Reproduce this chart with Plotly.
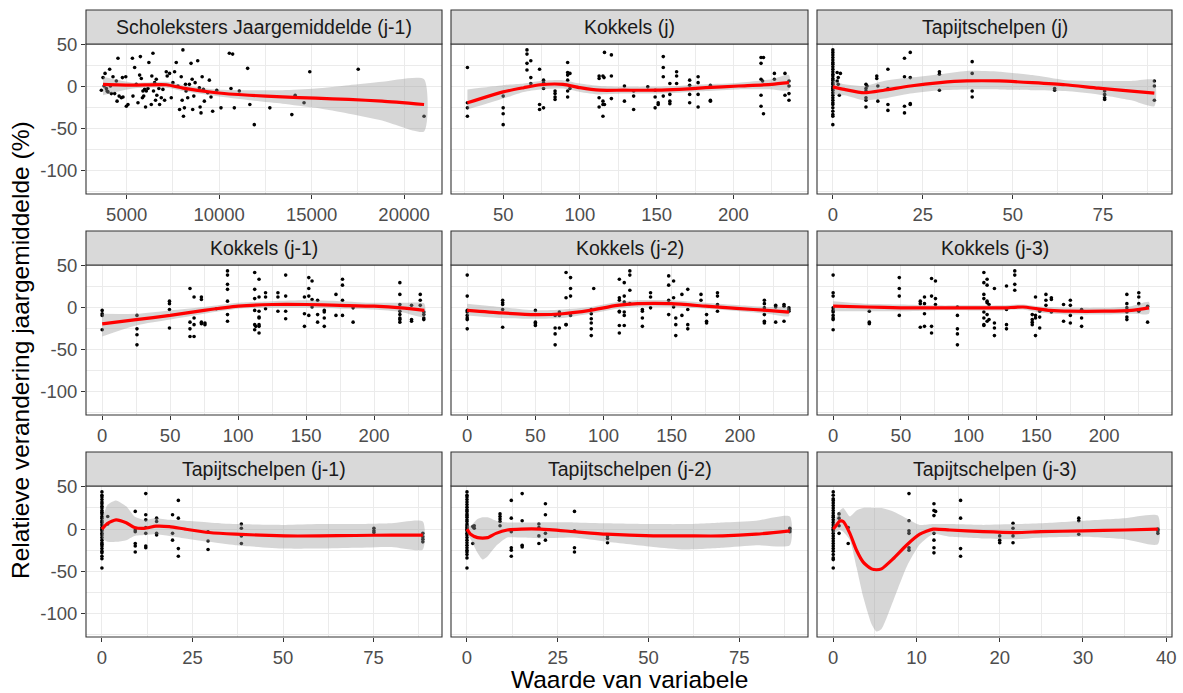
import plotly.graph_objects as go

W, H = 1183, 693
FONT = "Liberation Sans, Arial, sans-serif"

titles = ["Scholeksters Jaargemiddelde (j-1)", "Kokkels (j)", "Tapijtschelpen (j)",
          "Kokkels (j-1)", "Kokkels (j-2)", "Kokkels (j-3)",
          "Tapijtschelpen (j-1)", "Tapijtschelpen (j-2)", "Tapijtschelpen (j-3)"]
x_title = "Waarde van variabele"
y_title = "Relatieve verandering jaargemiddelde (%)"

# ---------------- Panel 1: Scholeksters Jaargemiddelde (j-1)
sch_x = [3630,3720,3780,3830,3900,3940,3990,4080,4120,4170,4260,4350,4440,4480,4530,4590,4710,4770,4800,4950,
         4980,5070,5310,5340,5430,5520,5610,5700,5740,5790,5850,5880,5920,5970,6020,6060,6150,6200,6330,6360,
         6420,6450,6510,6560,6600,6630,6740,6780,6870,6960,7050,7140,7190,7320,7410,7500,7590,7680,7770,7860,
         7950,8000,8040,8070,8120,8180,8210,8300,8390,8480,8540,8570,8630,8700,8840,8930,8970,9020,9080,9150,
         9200,9380,9470,9560,9650,9870,10100,10550,10640,10730,10820,11090,11540,11660,11900,12740,13930,14110,
         14590,14900,17520,21080]
sch_y = [-4,11,1,16,-2,-5,-6,21,1,-8,12,-8,7,-17,34,-11,-13,11,-12,12,
         -23,-21,34,-11,23,3,-19,14,36,10,-13,-5,-11,-3,-24,-5,-2,29,-21,13,
         40,-5,5,-16,9,-10,-2,-21,-13,-3,-16,18,13,16,-13,5,18,29,1,-27,
         12,-16,44,-35,-25,3,-5,-13,3,28,9,-27,-11,5,31,-1,-24,-31,12,-3,
         -17,-7,8,-12,-29,-4,-25,40,-2,39,-25,-5,22,-21,-45,-25,-33,-10,
         -19,18,21,-35]
sch_sx = [3720,5340,7140,8040,9830,11630,13420,15220,17010,18810,21080]
sch_fit = [3,2,2.5,-1.5,-7,-10,-12,-13.5,-15,-17,-21]
sch_lo = [-10,-2,-1,-5,-11,-16,-20,-25,-32,-40,-53]
sch_hi = [12,5,6,2,-3,-4,-4,-2,2,6,9]

# ---------------- Panel 2: Kokkels (j)
kj_x = [26.7,26.7,26.7,26.7, 50,50,50,50, 65.5,65.5,65.5,65.5, 68,68,68, 73.7,73.7,73.7, 76.3,76.3,76.3,76.3,
        83.8,83.8,83.8,83.8, 92,92,92,92,92,92, 93.5,93.5, 112.5,112.5,112.5,112.5, 115,115,115,115, 115.7,
        116,116, 120.5,120.5,120.5, 129,129, 135,135,135, 144.2, 149,149,149, 151,151, 154.3,154.3,154.3,154.3,
        158.6,158.6,158.6,158.6, 163,163,163, 171.5,171.5,171.5,171.5, 177,177,177,177, 185,185,185,
        218,218,218,218,218, 219, 219.6,219.6, 226.7,226.7, 233.6,233.6, 236.2,236.2,236.2,236.2]
kj_y = [23,-19,-25,-35, -11,-25,-32,-45, 44,39,28,20, 31,11,4, 21,-21,-27, 8,5,-2,-25,
        -5,-8,-12,-15, 29,17,14,8,-5,-12, 16,-2, 13,10,-13,-24, 13,-17,-21,-35, 11,
        41,-21, 38,13,-14, 1,-17, -5,-11,-27, 0, -4,-12,-25, -19,-21, 36,23,12,-11,
        4,-9,-17,-20, 18,13,4, 8,2,-9,-19, 12,5,-9,-24, 2,-16,-17,
        35,28,9,-10,-23, 7, 35,-32, 16,9, 16,-10, 7,1,-8,-16]
kj_sx = [26.7,50,63.4,74,89,100,113,128,150,164.7,182,203.4,225,236.2]
kj_fit = [-19,-6,-1,2.5,3,-1,-4,-4,-4,-3,-1,1,3,5]
kj_lo = [-27,-14,-6,-3,-2,-6,-9,-8,-8,-7,-5,-3,-3,-4]
kj_hi = [-3,2,4,7,8,4,1,0,0,1,3,5,9,14]

# ---------------- Panel 3: Tapijtschelpen (j)
tj_x = [0]*30 + [1.2,1.2,1.5,2.1,1.8,1.5] + [9.2]*6 + [9.5] + [12.2,12.2,12.5,12.5] + [15.3]*4 + [19.9]*4 \
       + [21.5]*4 + [29.6]*3 + [38.7]*4 + [61.6]*2 + [75.5]*4 + [89.3]*3
tj_y = [44,41,38,35,32,29,27,24,21,18,15,13,10,8,5,3,0,-2,-4,-7,-10,-13,-16,-19,-21,-25,-29,-33,-35,-45,
        17,7,3,16,-10,11, 3,-2,-5,-13,-16,-24, 1, 13,10,1,-17, 21,-2,-21,-28, 34,12,-23,-31,
        41,11,-20,-21, 18,15,-4, 30,16,-5,-12, -2,-4, -5,-9,-13,-15, 7,1,-16]
tj_sx = [0,3.2,8.7,14.2,21.5,29.8,37.1,46.2,55.4,64.6,73.7,82.9,89.3]
tj_fit = [0,-3,-7,-4,1,5,7,7,5,2.5,-1.5,-5,-7.5]
tj_lo = [-9,-10,-16,-14,-8,-4,-3,-3,-4,-5,-9,-16,-23]
tj_hi = [8,3,1,7,11,15,19,18,14,8,7,7,8]

# ---------------- Panel 4: Kokkels (j-1)
k1_x = [0]*4 + [25.6]*4 + [49.5]*4 + [64.6]*4 + [67.6]*4 + [73]*4 + [75.6]*2 + [84] + [92.2]*7 + [112.2]*6 \
       + [113] + [115.4]*8 + [120.2]*3 + [129.3]*3 + [135]*4 + [148.8]*3 + [152]*4 + [154.4]*3 + [158.5]*3 \
       + [163.4]*4 + [172]*2 + [176.8]*4 + [184.6]*2 + [219]*8 + [227.6]*3 + [234]*3 + [236.6]*4
k1_y = [-3,-7,-9,-26, -9,-25,-32,-44, 8,5,-2,-24, 23,-17,-25,-34, 13,-12,-20,-34, 13,10,-17,-19, -18,-20, -1,
        44,39,28,22,8,-8,-16, 42,22,11,-3,-20,-26, -22, 34,13,-4,-11,-12,-20,-22,-30, 18,13,-1, 18,13,-4,
        39,14,-4,-13, 13,-7,-22, 36,23,14,-9, 32,10,1, 9,-8,-17, -3,-5,-12,-22, 16,-9, 34,27,9,-9, 0,-17,
        30,16,4,-4,-8,-12,-14,-17, 3,-14,-16, 16,9,3, -5,-8,-12,-14]
k1_sx = [0,25,50,75,100,125,150,175,200,220,237]
k1_fit = [-19,-14,-9,-3,2,4,4,3,2,0,-3]
k1_lo = [-34,-21,-14,-7,-1,0,0,-1,-2,-5,-11]
k1_hi = [-7,-7,-3,1,6,8,9,8,6,6,5]

# ---------------- Panel 5: Kokkels (j-2)
k2_x = [0]*8 + [26]*5 + [50]*4 + [64.5]*4 + [67.6]*3 + [72.5]*4 + [75.8]*4 + [91]*6 + [92.8] + [111.6]*7 \
       + [115.2]*6 + [119.3]*4 + [128.5]*4 + [134.5]*3 + [147.8]*4 + [151.4]*3 + [153]*3 + [157.5]*2 \
       + [161.8]*4 + [171.5]*2 + [175.6]*3 + [183.6]*4 + [218]*6 + [226.3]*3 + [232.4]*3 + [236]*3
k2_y = [39,14,-3,-5,-9,-12,-14,-25, 9,6,4,-2,-23, -3,-17,-19,-21, -9,-24,-31,-44, -5,-9,-24, 42,12,-20,-20,
        36,23,14,-9, -2,-7,-13,-18,-25,-33, 23, 34,12,9,-4,-5,-21,-30, 30,14,7,-5,-9,-21, 44,39,21,5,
        -2,-4,-12,-22, 18,13,0, 38,27,9,-8, 32,12,1, -12,-20,-33, 16,-9, 22,-2,-20,-25, 16,9, -8,-16,-18,
        18,14,4,-4, 9,5,0,-8,-16,-18, 3,1,-17, 4,2,-16, 0,-2,-4]
k2_sx = [0,25,50,70,90,110,125,150,175,200,220,236]
k2_fit = [-3,-6,-8,-7,-3,3,5,5,2,-1,-3,-5]
k2_lo = [-9,-12,-13,-12,-7,-1,1,1,-1,-4,-7,-10]
k2_hi = [5,1,-3,-2,1,7,9,9,6,3,1,0]

# ---------------- Panel 6: Kokkels (j-3)
k3_x = [0]*10 + [26.7]*3 + [48.8]*4 + [64.3]*3 + [67.4]*4 + [72.6]*4 + [75.5]*3 + [91.7]*5 + [111.2]*8 \
       + [113.6]*6 + [115]*2 + [119]*4 + [127.9]*4 + [134]*4 + [146.9]*4 + [149.3]*4 + [152.4]*3 + [157]*3 \
       + [161]*3 + [170]*2 + [175]*4 + [183.3]*3 + [216.7]*6 + [225.5]*4 + [232]*2
k3_y = [39,18,14,0,-3,-5,-9,-12,-14,-26, -4,-17,-19, 36,23,14,-9, 8,5,-23, 13,5,-7,-22, 35,14,-22,-30,
        32,11,4, 1,-9,-25,-31,-44, 42,30,16,11,-5,-12,-20,-21, 34,27,8,6,-8,-16, 4,-14, 23,-18,-24,-33,
        26,-2,-20,-25, 44,39,28,21, -8,-14,-17,-20, 13,-9,-12,-33, -4,-11,-24, 16,9,3, 12,10,-5, 4,-16,
        9,3,-9,-18, -2,-12,-22, 16,5,0,-5,-11,-14, 18,13,5,-4, 2,-17]
k3_sx = [0,25,50,75,100,125,140,150,160,175,200,220,233]
k3_fit = [2,1,0,0,0,0,1,-1,-3,-4,-4,-3,0]
k3_lo = [-4,-4,-4,-3,-3,-3,-2,-5,-7,-8,-8,-7,-7]
k3_hi = [8,5,4,3,3,3,4,2,1,0,0,2,7]

# ---------------- Panel 7: Tapijtschelpen (j-1)
t1_x = [0]*32 + [1.6]*2 + [9.2]*6 + [12.1]*7 + [15.1]*4 + [19.5]*3 + [21.1]*4 + [29.3]*3 + [38.5]*4 \
       + [75.1]*3 + [88.6]*4
t1_y = [44,40,38,35,32,30,27,25,22,20,18,15,13,10,8,5,2,0,-2,-5,-7,-10,-13,-16,-18,-20,-23,-26,-28,-32,-35,-46,
        15,6, 21,-1,-3,-17,-20,-27, 42,17,11,2,-5,-20,-22, 13,9,-5,-7, 17,-5,-13, 34,13,-23,-32,
        -3,-14,-24, 6,1,-8,-17, 1,-2,-4, -5,-9,-12,-15]
t1_sx = [0,1.6,3.9,6.7,9,11.7,14.9,18.6,23,29.6,36.9,50.6,60,70,80,88.6]
t1_fit = [0,7,11,7.5,2,1,3.5,3,0,-4,-6,-8,-8,-7.5,-7,-7]
t1_lo = [-11,-15,-15,-13,-8,-7,-6,-8,-11,-15,-19,-23,-23,-22,-21,-24]
t1_hi = [11,29,34,27,15,11,13,11,10,8,6,5,6,6,7,9]

# ---------------- Panel 8: Tapijtschelpen (j-2)
t2_x = [0]*31 + [1.6,1.6,2,2] + [9.1]*5 + [12.2]*6 + [15.2]*4 + [19.8]*4 + [21.6]*4 + [29.6]*4 + [38.7]*3 \
       + [88.9]*3
t2_y = [44,40,38,35,32,29,26,23,21,18,16,14,11,9,6,4,2,0,-2,-5,-7,-10,-13,-16,-19,-22,-25,-27,-30,-34,-46,
        3,-17,1,4, 18,15,12,9,4, 34,13,-3,-22,-25,-32, 42,10,-19,-21, 6,2,-8,-17, 30,17,-5,-13,
        21,-2,-22,-27, -8,-11,-16, 1,-1,-3]
t2_sx = [0,1,2.9,4.3,5.7,8,11.1,15,20.3,29.4,38.5,51.3,60,70.4,79.6,88.9]
t2_fit = [0,-6,-10,-10.5,-10,-5,-1,0,0,-3,-6,-8,-8,-8,-6,-2]
t2_lo = [-5,-12,-28,-36,-32,-20,-10,-10,-11,-10,-15,-21,-24,-22,-19,-19]
t2_hi = [5,4,12,14,14,10,8,8,8,8,7,6,6,8,10,15]

# ---------------- Panel 9: Tapijtschelpen (j-3)
t3_x = [0]*29 + [0.7]*4 + [1.8]*2 + [9.1]*6 + [12.1]*7 + [12.3] + [15.3]*4 + [20]*3 + [21.6]*4 + [29.5]*3 \
       + [39]*3
t3_y = [44,40,36,34,31,28,25,22,19,16,14,11,8,5,2,0,-2,-5,-8,-11,-14,-17,-20,-23,-26,-30,-34,-36,-46,
        18,13,4,-5, 2,-17, 42,10,-2,-5,-22,-25, 30,22,16,-5,-13,-22,-28, 21, 34,13,-23,-32,
        -8,-13,-16, 7,1,-8,-16, 13,10,-6, 0,-2,-5]
t3_sx = [0,0.4,0.8,1.2,2,2.8,3.6,4.6,5.2,5.8,7.2,8.8,10.4,12,14,18,22,25,30,35,39]
t3_fit = [0,5,9.5,9,-5,-25,-39,-47,-48,-47,-35,-19,-6,0,-1,-3,-4,-3,-2,-1,0]
t3_lo = [-5,-3,-1,-3,-13,-45,-80,-112,-121,-118,-85,-45,-18,-6,-9,-11,-12,-10,-9,-12,-18]
t3_hi = [5,15,22,25,15,22,25,25,25,25,21,13,5,6,6,5,6,7,10,13,16]

# ---------------- axis scales / ticks
y_ticks = [-100, -50, 0, 50]
y_ticktext = ["-100", "-50", "0", "50"]
y_minor = [-125, -75, -25, 25]
y_range = [-127.5, 51]

x_ticks = [[5000, 10000, 15000, 20000], [50, 100, 150, 200], [0, 25, 50, 75],
           [0, 50, 100, 150, 200], [0, 50, 100, 150, 200], [0, 50, 100, 150, 200],
           [0, 25, 50, 75], [0, 25, 50, 75], [0, 10, 20, 30, 40]]
x_ticktext = [[str(v) for v in t] for t in x_ticks]
x_minor = [[2500, 7500, 12500, 17500], [25, 75, 125, 175, 225], [12.5, 37.5, 62.5, 87.5],
           [25, 75, 125, 175, 225], [25, 75, 125, 175, 225], [25, 75, 125, 175, 225],
           [12.5, 37.5, 62.5, 87.5], [12.5, 37.5, 62.5, 87.5], [5, 15, 25, 35]]
x_ranges = [[2800, 22050], [16, 248.6], [-4.4, 94.2],
            [-11.9, 250], [-11.9, 250], [-11.9, 250],
            [-4.4, 93.9], [-4.4, 93.9], [-1.95, 40.7]]

panels = [
    (sch_x, sch_y, sch_sx, sch_fit, sch_lo, sch_hi),
    (kj_x, kj_y, kj_sx, kj_fit, kj_lo, kj_hi),
    (tj_x, tj_y, tj_sx, tj_fit, tj_lo, tj_hi),
    (k1_x, k1_y, k1_sx, k1_fit, k1_lo, k1_hi),
    (k2_x, k2_y, k2_sx, k2_fit, k2_lo, k2_hi),
    (k3_x, k3_y, k3_sx, k3_fit, k3_lo, k3_hi),
    (t1_x, t1_y, t1_sx, t1_fit, t1_lo, t1_hi),
    (t2_x, t2_y, t2_sx, t2_fit, t2_lo, t2_hi),
    (t3_x, t3_y, t3_sx, t3_fit, t3_lo, t3_hi),
]

# ---------------- layout geometry (pixels)
col_px = [(86, 442), (451, 808), (817, 1172)]
row_px = [(44, 194), (265, 415), (486, 637)]
STRIP = 34

fig = go.Figure()
layout = {}
shapes = []
annotations = []

for i, (px, py, sx, fit, lo, hi) in enumerate(panels):
    r, c = divmod(i, 3)
    n = "" if i == 0 else str(i + 1)
    xa, ya = "x" + n, "y" + n
    x0, x1 = col_px[c]
    t, b = row_px[r]

    fig.add_trace(go.Scatter(x=px, y=py, mode="markers", xaxis=xa, yaxis=ya,
                             marker=dict(color="black", size=3.6, line=dict(width=0)),
                             showlegend=False, hoverinfo="skip"))
    fig.add_trace(go.Scatter(x=list(sx) + list(sx)[::-1], y=list(hi) + list(lo)[::-1],
                             mode="lines", fill="toself", fillcolor="rgba(153,153,153,0.4)",
                             line=dict(width=0, color="rgba(0,0,0,0)", shape="spline", smoothing=0.6),
                             xaxis=xa, yaxis=ya, showlegend=False, hoverinfo="skip"))
    fig.add_trace(go.Scatter(x=sx, y=fit, mode="lines", xaxis=xa, yaxis=ya,
                             line=dict(color="#FF0000", width=3.2, shape="spline", smoothing=0.6),
                             showlegend=False, hoverinfo="skip"))

    axis_common = dict(showgrid=True, gridcolor="#EBEBEB", gridwidth=1.1, zeroline=False,
                       showline=False, ticks="outside", ticklen=4, tickwidth=1.1, tickcolor="#333333",
                       tickfont=dict(family=FONT, size=18.5, color="#4D4D4D"), fixedrange=True,
                       automargin=False)
    layout["xaxis" + n] = dict(axis_common, domain=[x0 / W, x1 / W], anchor=ya,
                               range=x_ranges[i], tickmode="array", tickvals=x_ticks[i],
                               ticktext=x_ticktext[i],
                               minor=dict(tickvals=x_minor[i], showgrid=True, gridcolor="#EBEBEB",
                                          gridwidth=0.55, ticks=""))
    ycfg = dict(axis_common, domain=[1 - b / H, 1 - t / H], anchor=xa, range=y_range,
                tickmode="array", tickvals=y_ticks, ticktext=y_ticktext,
                minor=dict(tickvals=y_minor, showgrid=True, gridcolor="#EBEBEB",
                           gridwidth=0.55, ticks=""))
    if c != 0:
        ycfg["showticklabels"] = False
        ycfg["ticks"] = ""
    layout["yaxis" + n] = ycfg

    # panel border
    shapes.append(dict(type="rect", xref="paper", yref="paper", x0=x0 / W, x1=x1 / W,
                       y0=1 - b / H, y1=1 - t / H, line=dict(color="#333333", width=1.1),
                       fillcolor="rgba(0,0,0,0)", layer="above"))
    # strip
    shapes.append(dict(type="rect", xref="paper", yref="paper", x0=x0 / W, x1=x1 / W,
                       y0=1 - t / H, y1=1 - (t - STRIP) / H, line=dict(color="#333333", width=1.1),
                       fillcolor="#D9D9D9", layer="above"))
    annotations.append(dict(text=titles[i], xref="paper", yref="paper", x=(x0 + x1) / 2 / W,
                            y=1 - (t - STRIP / 2) / H, showarrow=False, xanchor="center",
                            yanchor="middle", font=dict(family=FONT, size=19.5, color="#1A1A1A")))

annotations.append(dict(text=x_title, xref="paper", yref="paper", x=629 / W, y=1 - 679 / H,
                        showarrow=False, xanchor="center", yanchor="middle",
                        font=dict(family=FONT, size=24.5, color="black")))
annotations.append(dict(text=y_title, xref="paper", yref="paper", x=20 / W, y=1 - 350 / H,
                        showarrow=False, xanchor="center", yanchor="middle", textangle=-90,
                        font=dict(family=FONT, size=24.5, color="black")))

fig.update_layout(**layout)
fig.update_layout(template="none", width=W, height=H,
                  margin=dict(l=0, r=0, t=0, b=0, pad=0, autoexpand=False),
                  paper_bgcolor="white", plot_bgcolor="white",
                  shapes=shapes, annotations=annotations, showlegend=False)

fig.write_html("out.html", config={"displayModeBar": False},
               post_script="document.body.style.margin='0';document.body.style.overflow='hidden';")
